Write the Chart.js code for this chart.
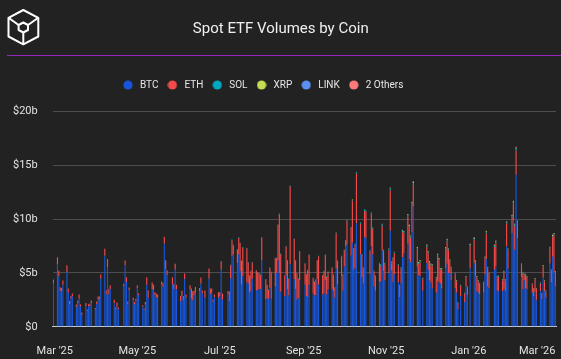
<!DOCTYPE html>
<html><head><meta charset="utf-8">
<script src="https://cdn.jsdelivr.net/npm/chart.js@4.4.1/dist/chart.umd.min.js"></script>
<style>
html,body{margin:0;padding:0;background:#222222;}
#wrap{position:relative;width:561px;height:359px;overflow:hidden;}
#c{position:absolute;left:0;top:0;}
#logo{position:absolute;left:0;top:0;}
#rule{position:absolute;left:7px;top:55px;width:554px;height:1px;background:#9526c0;}
</style></head><body>
<div id="wrap">
<canvas id="c" width="561" height="359"></canvas>
<div id="rule"></div>
<svg id="logo" width="48" height="52" viewBox="0 0 48 52">
 <g fill="none" stroke="#ffffff" stroke-width="2" stroke-linejoin="round">
  <polygon points="23.3,10 38.3,17.8 38.3,36.5 23.3,44.3 8.5,36.5 8.5,17.8"/>
  <polygon points="23.3,22.5 28,25 28,30 23.3,32.5 18.6,30 18.6,25"/>
  <line x1="8.5" y1="17.8" x2="18.6" y2="25"/>
  <line x1="38.3" y1="17.8" x2="28" y2="25"/>
  <line x1="23.3" y1="32.5" x2="23.3" y2="44.3"/>
 </g>
</svg>
</div>
<script>
// ---- categories ----
const startDate = '2025-02-28';
const endDate = '2026-03-06';
const holidays = ['2025-04-18','2025-05-26','2025-06-19','2025-07-04','2025-09-01','2025-11-27','2025-12-25','2026-01-01','2026-01-19','2026-02-16'];
const xTickLabels = {'2025-03-01':"Mar '25",'2025-05-01':"May '25",'2025-07-01':"Jul '25",'2025-09-01':"Sep '25",'2025-11-01':"Nov '25",'2026-01-01':"Jan '26"};
const lastTickLabel = "Mar '26";
const yTicks = [0,5,10,15,20];

// ---- series values ($b), one value per trading day from the series start ----
const btc = [
4.0,
5.77,4.7,3.3,3.3,3.9,
5.06,3.15,2.1,2.6,2.85,
1.85,2.15,2.6,1.85,1.1,
1.9,1.45,1.9,1.9,2.2,
1.6,2.1,2.5,2.55,4.45,
6.6,3.0,5.5,3.0,3.5,
2.2,1.6,1.8,1.6,
3.75,5.7,4.15,2.1,3.4,
2.45,2.1,2.4,3.55,2.95,
1.85,1.55,2.05,3.9,2.7,
3.45,3.4,2.95,2.7,2.7,
3.9,3.67,7.7,5.37,4.75,
3.9,3.5,5.3,3.45,
2.4,2.85,2.45,4.4,2.7,
3.45,2.6,2.45,2.9,3.15,
3.3,4.0,3.1,2.7,
4.45,3.0,3.15,2.3,2.75,
2.7,2.85,5.3,2.5,
3.0,2.4,4.45,6.55,6.7,
5.9,6.7,5.15,3.9,4.7,
4.1,4.0,3.15,3.3,4.45,
3.36,3.36,3.5,3.5,6.14,
2.55,2.6,2.6,3.6,2.6,
3.75,5.0,6.2,5.0,3.25,
2.85,4.75,3.45,2.9,5.8,
4.4,3.45,2.5,2.65,4.3,
3.9,2.85,2.75,3.9,
3.1,2.9,2.9,4.4,3.9,
3.0,3.1,4.3,3.0,3.45,
3.5,3.3,2.7,5.4,3.9,
4.7,3.35,5.6,7.5,7.6,
6.6,7.8,5.3,5.4,9.6,
6.7,4.6,4.0,8.3,8.2,
4.9,7.5,6.7,3.75,3.35,
4.1,4.2,7.05,5.15,4.3,
5.0,8.9,5.2,4.1,4.85,
4.15,2.75,4.0,6.45,6.85,
7.7,6.3,6.0,8.8,11.2,
5.6,4.75,4.7,3.35,
5.9,5.3,4.3,4.1,3.55,
3.15,4.2,4.1,4.0,3.55,
5.45,5.85,5.0,5.0,4.3,
3.6,3.15,1.6,2.85,
2.3,3.75,2.95,5.45,
5.9,4.7,3.3,3.15,3.0,
3.15,4.85,6.3,3.75,3.6,
5.3,5.6,3.35,3.3,
3.3,3.5,3.3,7.45,5.4,
8.7,9.9,7.15,14.1,8.2,
4.6,3.45,4.3,3.6,3.5,
3.15,2.85,3.25,2.45,
3.3,2.55,4.55,3.3,2.7,
5.85,4.1,6.5,5.05,3.75
];
const eth = [
0.38,
0.68,0.5,0.37,0.3,0.4,
0.64,0.4,0.3,0.25,0.25,
0.22,0.3,0.4,0.22,0.23,
0.3,0.15,0.2,0.25,0.25,
0.15,0.25,0.3,0.25,0.4,
0.65,0.4,0.8,0.5,0.35,
0.3,0.2,0.45,0.2,
0.25,0.45,0.45,0.25,0.25,
0.25,0.2,0.2,0.3,0.15,
0.15,0.15,0.25,0.7,0.7,
0.65,0.5,0.25,0.4,0.3,
0.3,0.4,0.66,0.8,0.5,
0.7,0.45,0.56,0.45,
0.45,0.5,0.4,0.55,0.3,
0.4,0.95,0.85,0.45,0.55,
0.3,0.57,0.26,0.66,
0.95,0.55,0.4,0.2,0.25,
0.5,0.35,0.78,0.58,
0.28,0.87,1.27,1.49,0.85,
1.22,1.53,2.59,2.2,2.64,
3.13,1.95,1.56,1.86,1.5,
1.86,1.66,1.47,1.31,2.11,
1.86,1.27,0.82,1.86,2.46,
2.6,1.35,3.24,5.41,3.49,
1.91,2.67,2.7,1.56,7.23,
3.74,2.7,2.46,1.81,2.64,
1.96,2.01,2.52,2.75,
1.41,1.26,1.45,1.74,2.63,
1.75,2.04,2.34,1.63,1.57,
1.92,1.48,0.95,3.25,2.14,
1.82,1.43,1.47,0.39,2.19,
2.56,3.89,1.92,2.22,4.6,
2.87,2.07,1.43,2.45,2.47,
2.12,2.98,2.4,1.38,1.33,
1.78,1.45,2.3,1.8,1.5,
2.08,3.75,0.68,2.17,1.96,
1.53,1.04,1.4,2.33,1.8,
2.5,2.94,2.25,2.5,1.95,
1.55,1.06,1.29,1.06,
1.5,1.5,1.62,1.6,2.11,
1.33,2.39,2.1,1.3,1.75,
1.76,2.08,2.1,1.08,1.12,
1.25,1.05,0.64,0.93,
0.77,0.84,0.71,2.05,
2.15,1.29,1.27,1.03,0.96,
0.9,1.5,2.38,1.68,1.25,
2.1,2.2,1.25,1.33,
1.0,1.55,1.0,2.1,1.7,
1.45,1.5,2.2,2.25,1.45,
1.1,1.45,0.48,1.2,1.1,
0.75,0.67,1.16,1.07,
0.68,0.52,1.04,0.9,0.57,
1.4,1.08,1.85,3.5,1.28
];
const solStart = '2025-07-02';
const sol = [
0.03,0.02,
0.02,0.03,0.04,0.06,0.05,
0.08,0.07,0.06,0.05,0.06,
0.07,0.05,0.04,0.04,0.05,
0.04,0.04,0.03,0.04,0.05,
0.03,0.03,0.03,0.04,0.04,
0.05,0.05,0.06,0.09,0.06,
0.04,0.08,0.05,0.04,0.07,
0.06,0.05,0.04,0.04,0.06,
0.04,0.04,0.03,0.05,
0.04,0.04,0.05,0.06,0.07,
0.05,0.06,0.06,0.05,0.05,
0.06,0.05,0.04,0.07,0.09,
0.06,0.05,0.06,0.08,0.08,
0.07,0.08,0.06,0.06,0.11,
0.1,0.06,0.05,0.12,0.1,
0.06,0.09,0.08,0.05,0.05,
0.05,0.12,0.15,0.13,0.1,
0.12,0.18,0.1,0.1,0.11,
0.1,0.08,0.1,0.12,0.1,
0.14,0.12,0.12,0.16,0.18,
0.12,0.1,0.1,0.06,
0.12,0.1,0.09,0.08,0.08,
0.07,0.1,0.09,0.08,0.07,
0.1,0.11,0.09,0.08,0.07,
0.06,0.05,0.03,0.05,
0.05,0.06,0.05,0.09,
0.1,0.08,0.06,0.06,0.05,
0.06,0.08,0.1,0.07,0.05,
0.09,0.09,0.06,0.06,
0.05,0.06,0.05,0.1,0.07,
0.12,0.14,0.11,0.16,0.1,
0.07,0.05,0.06,0.05,0.05,
0.05,0.04,0.05,0.04,
0.05,0.04,0.06,0.05,0.04,
0.08,0.06,0.08,0.07,0.06
];
const xrpStart = '2025-09-18';
const xrp = [
0.02,0.03,
0.02,0.02,0.01,0.03,0.02,
0.02,0.02,0.02,0.03,0.03,
0.02,0.03,0.02,0.02,0.04,
0.03,0.02,0.02,0.03,0.03,
0.02,0.03,0.02,0.02,0.02,
0.02,0.03,0.03,0.03,0.02,
0.03,0.05,0.06,0.03,0.03,
0.03,0.02,0.03,0.08,0.1,
0.1,0.09,0.08,0.1,0.14,
0.12,0.09,0.08,0.05,
0.09,0.08,0.06,0.06,0.05,
0.05,0.07,0.06,0.05,0.05,
0.07,0.08,0.06,0.06,0.05,
0.04,0.04,0.02,0.03,
0.03,0.04,0.03,0.08,
0.12,0.07,0.05,0.05,0.04,
0.05,0.06,0.08,0.05,0.04,
0.08,0.08,0.05,0.05,
0.04,0.05,0.04,0.1,0.06,
0.08,0.1,0.08,0.12,0.07,
0.07,0.05,0.05,0.04,0.04,
0.04,0.03,0.04,0.03,
0.04,0.03,0.05,0.04,0.03,
0.06,0.05,0.08,0.06,0.05
];
const linkStart = '2025-12-02';
const link = [
0.02,0.01,0.01,0.01,
0.01,0.01,0.01,0.01,0.01,
0.01,0.02,0.01,0.01,0.01,
0.01,0.01,0.01,0.01,
0.01,0.01,0.01,0.01,
0.02,0.01,0.01,0.01,0.01,
0.01,0.01,0.02,0.01,0.01,
0.01,0.01,0.01,0.01,
0.01,0.01,0.01,0.02,0.01,
0.02,0.02,0.02,0.03,0.02,
0.01,0.01,0.01,0.01,0.01,
0.01,0.01,0.01,0.01,
0.01,0.01,0.01,0.01,0.01,
0.01,0.01,0.02,0.01,0.01
];
const othersStart = '2025-10-28';
const others = [
0.02,0.03,0.03,0.02,
0.03,0.04,0.02,0.02,0.02,
0.02,0.02,0.02,0.03,0.03,
0.03,0.03,0.03,0.03,0.04,
0.03,0.02,0.02,0.02,
0.03,0.02,0.02,0.02,0.02,
0.02,0.02,0.02,0.02,0.02,
0.02,0.03,0.02,0.02,0.02,
0.02,0.02,0.01,0.02,
0.01,0.02,0.02,0.03,
0.03,0.02,0.02,0.02,0.02,
0.02,0.02,0.03,0.02,0.02,
0.03,0.03,0.02,0.02,
0.02,0.02,0.02,0.03,0.02,
0.03,0.03,0.03,0.04,0.03,
0.02,0.02,0.02,0.02,0.02,
0.02,0.01,0.02,0.01,
0.02,0.01,0.02,0.02,0.01,
0.02,0.02,0.03,0.02,0.02
];

// ---- build calendar of days and map trading-day values onto it ----
const DAY = 86400000;
const days = [];
for (let t = Date.parse(startDate + 'T00:00:00Z'); t <= Date.parse(endDate + 'T00:00:00Z'); t += DAY) {
  days.push(new Date(t).toISOString().slice(0, 10));
}
const trading = days.filter(d => {
  const w = new Date(d + 'T00:00:00Z').getUTCDay();
  return w > 0 && w < 6 && !holidays.includes(d);
});
function series(vals, start) {
  const from = trading.indexOf(start);
  const map = {};
  trading.forEach((d, j) => { if (j >= from && j - from < vals.length) map[d] = vals[j - from]; });
  return days.map(d => (d in map ? map[d] : null));
}

const colors = {BTC:'#1756d8', ETH:'#f24a4a', SOL:'#00a8c0', XRP:'#c6dc52', LINK:'#5b8ff0', OTH:'#ff7b7b'};
function dot(color) {
  const c = document.createElement('canvas');
  c.width = 10; c.height = 10;
  const g = c.getContext('2d');
  g.fillStyle = color; g.beginPath(); g.arc(5, 5, 4.6, 0, Math.PI * 2); g.fill();
  return c;
}

Chart.defaults.font.family = "Roboto, 'Noto Sans', sans-serif";

const datasets = [
  {label:'BTC', data: series(btc, startDate), backgroundColor: colors.BTC},
  {label:'ETH', data: series(eth, startDate), backgroundColor: colors.ETH},
  {label:'SOL', data: series(sol, solStart), backgroundColor: colors.SOL},
  {label:'XRP', data: series(xrp, xrpStart), backgroundColor: colors.XRP},
  {label:'LINK', data: series(link, linkStart), backgroundColor: colors.LINK},
  {label:'2 Others', data: series(others, othersStart), backgroundColor: colors.OTH}
];

const X_PAD = 18, Y_PAD = 15;
new Chart(document.getElementById('c'), {
  type: 'bar',
  data: {labels: days, datasets},
  options: {
    responsive: false,
    animation: false,
    devicePixelRatio: 1,
    layout: {padding: {left: 13, right: 5, top: 0, bottom: 1}},
    datasets: {bar: {barPercentage: 0.85, categoryPercentage: 1, borderWidth: 0}},
    plugins: {
      title: {display: true, text: 'Spot ETF Volumes by Coin  ', color: '#efefef',
              font: {size: 15, weight: 'normal'}, padding: {top: 20, bottom: 35}},
      subtitle: {display: true, text: '', font: {size: 1}, padding: {top: 0, bottom: 10}, weight: 500},
      legend: {
        position: 'top', align: 'center',
        labels: {
          color: '#e6e6e6', font: {size: 10}, usePointStyle: true, pointStyleWidth: 14, padding: 7,
          generateLabels(chart) {
            const n = chart.data.datasets.length;
            return chart.data.datasets.map((ds, i) => ({
              text: ds.label + (i === n - 1 ? '                  ' : ''),
              fillStyle: ds.backgroundColor, strokeStyle: ds.backgroundColor, lineWidth: 0,
              pointStyle: dot(ds.backgroundColor), hidden: !chart.isDatasetVisible(i),
              datasetIndex: i, fontColor: '#e6e6e6'
            }));
          }
        }
      },
      tooltip: {enabled: false}
    },
    scales: {
      x: {
        stacked: true,
        grid: {display: false, drawTicks: false},
        border: {display: true, color: '#cfcfcf', width: 1},
        afterFit(s) { s.paddingLeft = 0; s.paddingRight = 0; s.height -= X_PAD; },
        ticks: {
          autoSkip: false, maxRotation: 0, minRotation: 0, align: 'inner', padding: X_PAD,
          color: '#e2e2e2', font: {size: 11},
          callback(value, index) {
            if (index === days.length - 1) return lastTickLabel;
            return xTickLabels[days[index]] || '';
          }
        }
      },
      y: {
        stacked: true, min: yTicks[0], max: yTicks[yTicks.length - 1],
        afterBuildTicks(scale) { scale.ticks = yTicks.map(v => ({value: v})); },
        afterFit(s) { s.paddingTop = 0; s.paddingBottom = 0; s.width -= Y_PAD; },
        grid: {color: ctx => (ctx.tick && ctx.tick.value === 0 ? 'rgba(0,0,0,0)' : '#4d4d4d'), drawTicks: false},
        border: {display: false},
        ticks: {padding: Y_PAD, color: '#e2e2e2', font: {size: 11},
                callback: v => '$' + v + (v ? 'b' : '')}
      }
    }
  }
});
</script>
</body></html>
